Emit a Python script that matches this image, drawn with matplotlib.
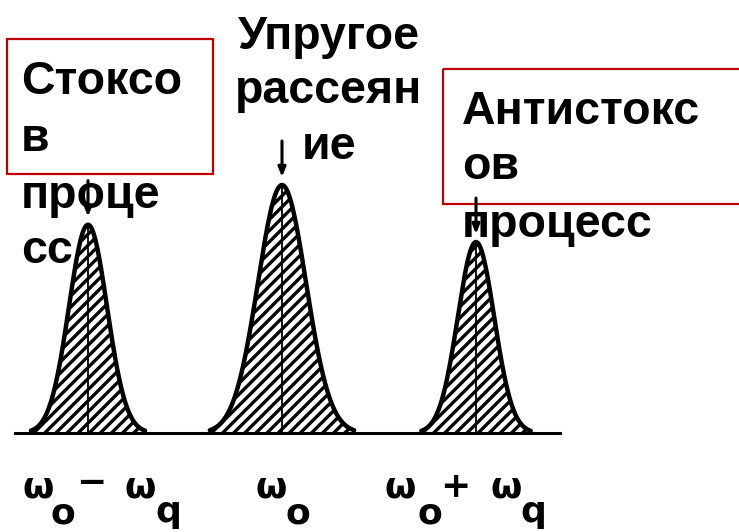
import numpy as np
import matplotlib
matplotlib.use("Agg")
import matplotlib.pyplot as plt
import matplotlib.transforms as mtransforms
from matplotlib.patches import Rectangle

# ---- data (frequency in units of omega_q relative to omega_0, intensity relative) ----
peak_centers = [-1.0, 0.0, 1.0]
peak_heights = [0.84, 1.00, 0.77]
peak_widths = [0.098, 0.124, 0.094]

stokes_lines = ["Стоксо", "в", "проце", "сс"]
elastic_lines = ["Упругое", "рассеян", "ие"]
antistokes_lines = ["Антистокс", "ов", "процесс"]

# frequency labels
freq_glyphs = ["ω", "o", "−", "ω", "q",
               "ω", "o",
               "ω", "o", "+", "ω", "q"]
# ----------------------------------------------------------------------

W, H = 739, 532
plt.rcParams["hatch.linewidth"] = 2.4
fig = plt.figure(figsize=(W / 100, H / 100), dpi=100)
ax = fig.add_axes([0, 0, 1, 1])
X0, SX = 282.0, 194.0   # px of omega_0, px per omega_q
Y0, SY = 433.0, 248.0   # px of baseline, px per unit intensity
ax.set_xlim(-X0 / SX, (W - X0) / SX)
ax.set_ylim(-(H - Y0) / SY, Y0 / SY)
ax.axis("off")

pix = mtransforms.Affine2D().scale(1 / W, -1 / H).translate(0, 1) + fig.transFigure

# peaks
for c, h, w in zip(peak_centers, peak_heights, peak_widths):
    x = np.linspace(c - 3.0 * w, c + 3.0 * w, 400)
    y = h * np.exp(-0.5 * ((x - c) / w) ** 2)
    ax.fill_between(x, 0, y, facecolor="white", edgecolor="black",
                    hatch="///", linewidth=0, zorder=2)
    ax.plot(x, y, color="black", lw=3.2, zorder=3, solid_capstyle="round")
    ax.plot([c, c], [0, h], color="black", lw=1.3, zorder=3)
    gap, length = 8 / SY, 36 / SY
    ax.annotate("", xy=(c, h + gap), xytext=(c, h + gap + length),
                arrowprops=dict(arrowstyle="-|>,head_width=0.22,head_length=0.55",
                                lw=2.2, color="black", shrinkA=0, shrinkB=0),
                zorder=7)

# baseline
ax.plot([(15 - X0) / SX, (560 - X0) / SX], [0, 0], color="black", lw=2.2, zorder=3)

# red boxes
ax.add_patch(Rectangle((7, 39), 206, 135, transform=pix, fill=False,
                       edgecolor="#C00000", lw=1.6, zorder=5, clip_on=False))
ax.add_patch(Rectangle((443, 69), 320, 135, transform=pix, fill=False,
                       edgecolor="#C00000", lw=1.6, zorder=5, clip_on=False))

tfont = dict(family=["Liberation Sans", "DejaVu Sans"], fontsize=33.5,
             fontweight="bold", color="black", zorder=6, transform=pix,
             va="baseline", clip_on=False)

for s, yb in zip(stokes_lines, [94, 151, 208, 263]):
    ax.text(21, yb, s, ha="left", **tfont)
for s, yb in zip(elastic_lines, [49, 103, 159]):
    ax.text(329, yb, s, ha="center", **tfont)
for s, yb in zip(antistokes_lines, [124, 179, 237]):
    ax.text(462, yb, s, ha="left", **tfont)

# frequency labels
fx = [38, 63, 91, 140, 168, 271, 298, 400, 430, 455, 506, 533]
fy = [497, 524, 493, 497, 522, 497, 524, 497, 524, 497, 497, 522]
ffont = dict(family=["DejaVu Sans"], fontsize=26, fontweight="bold",
             color="black", transform=pix, ha="center", va="baseline",
             clip_on=False)
for g, x, y in zip(freq_glyphs, fx, fy):
    ax.text(x, y, g, **ffont)

fig.savefig("out.png", dpi=100, facecolor="white")
